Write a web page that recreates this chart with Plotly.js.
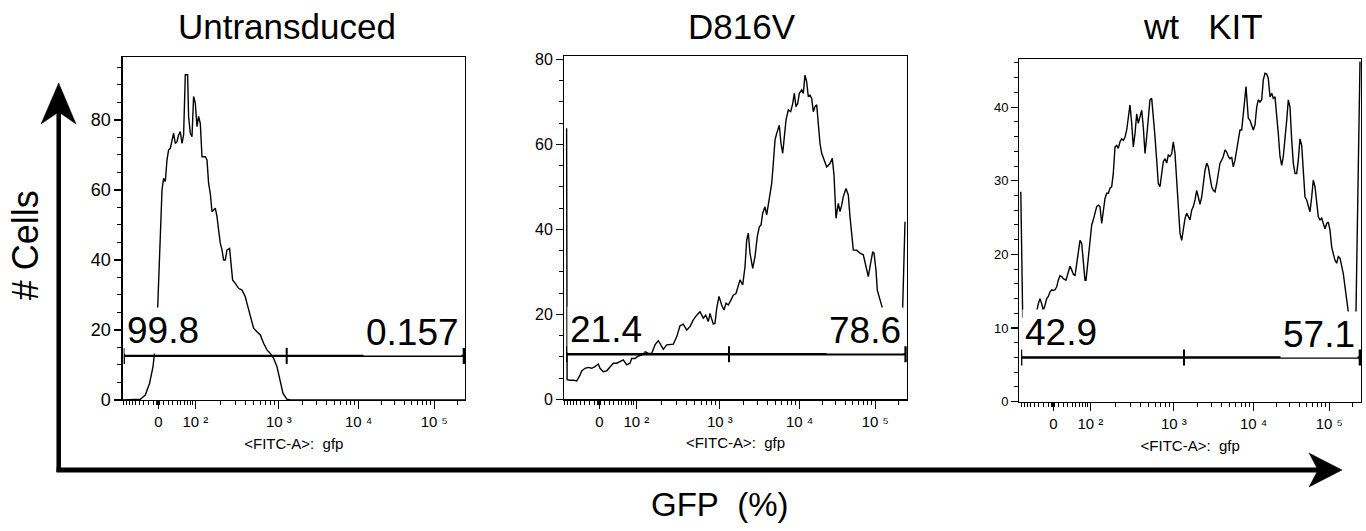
<!DOCTYPE html>
<html><head><meta charset="utf-8">
<script src="https://cdn.plot.ly/plotly-3.0.1.min.js"></script>
<style>html,body{margin:0;padding:0;background:#fff}#chart{width:1366px;height:531px}</style>
</head><body><div id="chart"></div>
<script>
// ---- data (x = display position on the biexponential GFP axis, 0 tick = 0) ----
const panelTitles = ["Untransduced", "D816V", "wt\u00a0\u00a0\u00a0KIT"];
const tickLabels = ["0", "10\u00a0\u00b2", "10\u00a0\u00b3", "10\u00a0\u2074", "10\u00a0\u2075"];
const tickPositions = [0, 37, 120.5, 200.3, 276];

const untransducedX = [-35.6, -18, -13, -8.7, -5.3, -3.7, -2, -0.7, 1.3, 3.7,
  5.3, 7, 8.7, 10.3, 12, 13.7, 15.3, 17, 18.7, 20.3,
  22, 23.7, 25.3, 27, 29.3, 30.3, 32, 33.7, 35.3, 37,
  38.7, 40.3, 42, 43.7, 47, 48.7, 50.3, 52, 53.7, 57,
  58.7, 60.3, 62, 63.7, 65.3, 67, 68.7, 71.3, 72.7, 74.3,
  77, 80.3, 83.7, 87, 88.7, 92, 95.3, 98.7, 102, 105.3,
  108.7, 112, 115.3, 118.7, 122, 124.7, 128.7, 132, 306.7];
const untransducedCells = [0, 0.2, 1.4, 4.8, 9.5, 12.9, 18.1, 25.7, 41, 60,
  63.3, 62.4, 68.6, 71.4, 71.9, 74.3, 76.2, 73.3, 73.8, 75.7,
  76.7, 73.3, 75.7, 92.9, 92.9, 81, 76.2, 75.2, 86.7, 84.8,
  78.1, 81, 79, 69.5, 69.5, 68.6, 61.9, 59, 53.8, 54.8,
  52.4, 48.6, 44.8, 42.9, 40, 40, 42.9, 43.3, 39, 34.3,
  33.3, 31.9, 31.4, 29.5, 27.6, 23.8, 20.5, 19.5, 18.6, 16.2,
  14.3, 13.3, 11.9, 9.5, 5.7, 1.9, 0.2, 0, 0];

const d816vX = [-32.7, -32.2, -29.3, -26, -22.6, -21, -19.3, -17.6, -14.3, -11,
  -7.6, -4.3, -1, 0.7, 4, 7.4, 10.7, 14, 17.4, 20.7,
  24, 27.4, 30.7, 32.4, 35.7, 39, 42.4, 45.7, 49, 52.4,
  55.7, 59, 60.7, 64, 67.4, 70.7, 74, 77.4, 80.7, 84,
  87.4, 90.7, 94, 97.4, 100.7, 104, 106.4, 109, 110.7, 114,
  115.7, 117.4, 119.7, 122.4, 124.7, 126.7, 129, 131.7, 134, 136.7,
  139, 140.7, 143.4, 145.7, 147.4, 149, 150.7, 153.4, 155.7, 158,
  160, 161.7, 163.4, 165.7, 167.4, 169, 170.7, 172.4, 174, 175.7,
  177.4, 180, 181.7, 183.4, 184.7, 186.7, 189, 191.4, 193.4, 195,
  196.7, 198.4, 200, 202.4, 204, 205.7, 207.4, 209, 210.7, 212.4,
  214, 215.7, 217.4, 219, 220.7, 222.4, 225.7, 227.4, 230.7, 233,
  234.7, 236.7, 239, 240.7, 242.4, 244, 246.7, 249, 250.7, 252.4,
  254, 257.4, 260.7, 264, 267.4, 269, 270.7, 273.4, 274.7, 276.7,
  278, 280.7, 282.4, 287.4, 294, 300.7, 303.4, 305.7];
const d816vCells = [63.8, 4.6, 4.5, 4.5, 4.3, 4.9, 5.7, 6.7, 7.3, 7.5,
  7.3, 7.7, 8.3, 7.3, 6.5, 6.7, 7.7, 8.5, 8.5, 8.9,
  9.3, 8.1, 8.5, 9.6, 9.6, 10.2, 10.4, 11.2, 10.8, 10.8,
  12.8, 13.8, 13.2, 11.8, 12.8, 12.9, 13, 14.7, 17.3, 17.7,
  16.3, 17.1, 18.7, 19.8, 20.6, 19.1, 19.8, 18.3, 20.2, 17.7,
  17.9, 21.4, 24.2, 22.2, 21, 22.6, 22.2, 23.4, 24.5, 24.9,
  26.5, 28.1, 26.9, 31.2, 37.5, 39.1, 34.4, 30.8, 33.6, 38.3,
  40.6, 41, 43.8, 45.3, 43.4, 46.1, 48.5, 50.8, 55.5, 61,
  62.6, 64.5, 60.2, 57.9, 61, 65.7, 68.1, 67.7, 69.6, 72,
  68.9, 69.6, 72, 72.8, 72, 76.3, 74.7, 71.2, 71.6, 70.8,
  67.7, 68.9, 69.3, 64.2, 60.2, 57.9, 55.5, 54.7, 55.5, 56.7,
  52.8, 42.6, 46.1, 44.2, 45.7, 47.7, 49.6, 48.1, 43, 39.1,
  35.1, 35.1, 34.4, 34, 30.4, 28.9, 31.2, 34.7, 34.4, 30.4,
  25.7, 23.4, 21.6, 17.9, 15.5, 14.7, 21.8, 41.8];

const wtKitX = [-32.5, -30.6, -23.3, -16.6, -15, -13.3, -11.6, -10, -8.3, -6.6,
  -5, -3.3, -1.6, 0, 1.7, 3.4, 5, 6.7, 8.4, 10,
  12.7, 15, 16.7, 18.4, 20, 21.7, 23.4, 25, 26.7, 28.4,
  30, 31.7, 32.7, 35, 36.7, 38.4, 40, 41.7, 43.4, 45,
  46.7, 48.4, 50, 51.7, 53.4, 55, 56.7, 58.4, 60, 61.7,
  63.4, 65, 66.7, 68.4, 70, 71.7, 73.4, 75, 76.7, 78.4,
  80, 81.7, 83.4, 85, 86.7, 88.4, 90, 91.7, 93.4, 95,
  96.7, 98.4, 100, 101.7, 103.4, 105, 106.7, 108.4, 110, 111.7,
  113.4, 115, 116.7, 118.4, 120, 121.7, 123.4, 125, 126.7, 128.4,
  130, 131.7, 133.4, 135, 136.7, 138.4, 140, 141.7, 143.4, 145,
  146.7, 148.4, 150, 151.7, 153.4, 155, 156.7, 158.4, 160, 161.7,
  163.4, 165, 166.7, 168.4, 170, 171.7, 173.4, 175, 176.7, 178.4,
  180, 181.7, 183.4, 185, 186.7, 188.4, 190, 191.7, 192.7, 194,
  195, 196.7, 198.4, 200, 201.7, 203.4, 205, 206.7, 208.4, 210,
  211.7, 213.4, 215, 216.7, 218.4, 220, 221.7, 223.4, 225, 226.7,
  228.4, 230, 231.7, 233.4, 235, 236.7, 238.4, 240, 241.7, 243.4,
  245, 246.7, 248.4, 250, 251.7, 253.4, 255, 256.7, 258.4, 260,
  261.7, 263.4, 265, 266.7, 268.4, 270, 271.7, 273.4, 275, 276.7,
  278.4, 280, 281.7, 283.4, 285, 286.7, 288.4, 290, 291.7, 293.4,
  295, 298.4, 301.7, 302.7, 306.7];
const wtKitCells = [28.5, 11.5, 10.6, 12.2, 13.3, 14, 13.3, 12.4, 13.1, 14,
  14.3, 14.9, 15.2, 15.1, 15.2, 15.6, 16.5, 17.1, 17, 16.7,
  16.5, 17.5, 18.4, 17.9, 17.3, 17.1, 18.8, 20.6, 21.9, 21.5,
  18.8, 16.5, 16.5, 19.7, 22.4, 24, 24.7, 25.6, 26.5, 26.7,
  26.5, 24.2, 25.6, 27.6, 28.3, 28.3, 29, 29.2, 31, 34.6,
  34.8, 34.4, 35.3, 35.7, 35.5, 35.9, 36.9, 38.7, 40.3, 37.8,
  34.6, 36.4, 39.1, 37.8, 38.9, 39.6, 37.3, 33.7, 36, 39.1,
  41, 41.2, 39.1, 36, 32.8, 29.6, 29.2, 31, 32.6, 33,
  32.4, 33.5, 33.3, 33.7, 35.3, 33.7, 30.1, 26.9, 22.9, 21.9,
  23.3, 24.9, 25.6, 25.1, 24.7, 26, 26.5, 27.4, 28.7, 27.8,
  26.8, 27.8, 29.6, 31.4, 32.4, 31.9, 30.5, 29.2, 28.7, 28.5,
  29.6, 31, 32.4, 32.8, 33.3, 34.2, 33.9, 33.3, 33, 33.2,
  31.9, 32.8, 34.2, 35.5, 36.9, 36.9, 38.7, 41.4, 42.8, 40.5,
  38.5, 38.2, 37.6, 36.9, 37.6, 40, 41, 40.7, 41, 43.7,
  44.6, 44.5, 43.9, 41.4, 41.9, 41.2, 41.4, 39.1, 36.4, 33.3,
  32.1, 33.3, 35.5, 38.2, 41, 40, 35.5, 32.4, 31, 31,
  32.8, 35.7, 34.8, 31.4, 27.8, 27.4, 26.7, 25.8, 27.8, 30.1,
  29.2, 26.5, 25.1, 24.7, 24.9, 24.2, 23.5, 24.2, 24.4, 23.3,
  21, 20.1, 19.2, 18.8, 19.7, 19.5, 18.6, 17.4, 15.6, 13.8,
  12.2, 10.2, 10.2, 12.4, 46.2];

// gates (GFP- / GFP+ split) and their percentages
const gateLevel = [12.6, 10.6, 6.0];
const gateLeft = [-34, -32.6, -31.6];
const gateDivider = [128.4, 129.7, 130.7];
const gateRight = [305.7, 306.4, 306.7];
const negativePct = ["99.8", "21.4", "42.9"];
const positivePct = ["0.157", "78.6", "57.1"];

// ---- layout helpers ----
const W = 1366, H = 531;
const FONT = 'Arial, "Liberation Sans", Helvetica, sans-serif';
const px = v => v / W, py = v => 1 - v / H;

const xDomains = [[122.7, 465], [564.3, 906.7], [1019.3, 1361]];
const yDomains = [[400, 57.3], [399.3, 56], [401.7, 59.3]];
const xRanges = [[-35.6, 306.7], [-35, 307.4], [-34, 307.7]];
const yTops = [97.9, 80.8, 46.5];
const yDticks = [20, 20, 10];
const yMinor = [5, 5, 2];
const yTickFont = [18, 16, 13];
const titleCenters = [287, 741.7, 1203.3];

function minorTicks(major, lo, hi) {
  const out = [];
  [0.15, 0.3, 1, 2, 3, 4, 5, 6, 7, 8, 9].forEach(m => {
    const d = major[1] * Math.asinh(m * 10 / 50) / Math.asinh(2);
    out.push(d, -d);
  });
  for (let k = 1; k < major.length; k++) {
    const a = major[k];
    const b = k + 1 < major.length ? major[k + 1] : a + (major[k] - major[k - 1]);
    for (let m = 2; m <= 9; m++) out.push(a + (b - a) * Math.log10(m));
  }
  return out.filter(v => v > lo && v < hi);
}

const series = [[untransducedX, untransducedCells], [d816vX, d816vCells], [wtKitX, wtKitCells]];
const traces = series.map((s, i) => ({
  type: 'scatter', mode: 'lines', x: s[0], y: s[1],
  xaxis: i ? 'x' + (i + 1) : 'x', yaxis: i ? 'y' + (i + 1) : 'y',
  line: {color: '#000', width: 1.4}, hoverinfo: 'skip', cliponaxis: true
}));

const layout = {
  width: W, height: H, margin: {l: 0, r: 0, t: 0, b: 0},
  paper_bgcolor: '#fff', plot_bgcolor: '#fff', showlegend: false,
  font: {family: FONT, color: '#000'},
  shapes: [], annotations: []
};

for (let i = 0; i < 3; i++) {
  const sx = i ? String(i + 1) : '';
  layout['xaxis' + sx] = {
    domain: [px(xDomains[i][0]), px(xDomains[i][1])], range: xRanges[i],
    anchor: 'y' + sx,
    tickmode: 'array', tickvals: tickPositions, ticktext: tickLabels,
    ticks: 'outside', ticklen: 8, tickwidth: 1.3, tickcolor: '#000',
    tickfont: {family: FONT, size: 15, color: '#000'},
    showline: true, linecolor: '#000', linewidth: 1.3, mirror: true,
    showgrid: false, zeroline: false, fixedrange: true,
    minor: {tickmode: 'array', tickvals: minorTicks(tickPositions, xRanges[i][0], xRanges[i][1]),
            ticks: 'outside', ticklen: 4, tickwidth: 1, tickcolor: '#000', showgrid: false},
    title: {text: '&lt;FITC-A&gt;:\u00a0\u00a0gfp', font: {family: FONT, size: 15, color: '#000'}, standoff: 9}
  };
  layout['yaxis' + sx] = {
    domain: [py(yDomains[i][0]), py(yDomains[i][1])], range: [0, yTops[i]],
    anchor: 'x' + sx,
    tickmode: 'linear', tick0: 0, dtick: yDticks[i],
    ticks: 'outside', ticklen: 7, tickwidth: 1.3, tickcolor: '#000',
    tickfont: {family: FONT, size: yTickFont[i], color: '#000'},
    showline: true, linecolor: '#000', linewidth: 1.3, mirror: true,
    showgrid: false, zeroline: false, fixedrange: true,
    minor: {tick0: 0, dtick: yMinor[i], ticks: 'outside', ticklen: 4, tickwidth: 1, tickcolor: '#000', showgrid: false}
  };
  const xr = 'x' + sx, yr = 'y' + sx;
  // gate line + end/divider ticks
  layout.shapes.push({type: 'line', xref: xr, yref: yr, x0: gateLeft[i], x1: gateRight[i],
    y0: gateLevel[i], y1: gateLevel[i], line: {color: '#000', width: 2.4}});
  [[gateLeft[i], 1.3], [gateDivider[i], 2], [gateRight[i], 2.6]].forEach(([gx, w]) => {
    layout.shapes.push({type: 'line', xref: xr, yref: yr, ysizemode: 'pixel', yanchor: gateLevel[i],
      x0: gx, x1: gx, y0: -8, y1: 8, line: {color: '#000', width: w}});
  });
  // gate percentages
  layout.annotations.push({xref: xr, yref: yr, x: gateLeft[i], y: gateLevel[i], xanchor: 'left', yanchor: 'bottom',
    yshift: 1.5, text: negativePct[i], showarrow: false, bgcolor: '#fff', borderpad: 2,
    font: {family: FONT, size: 37, color: '#000'}});
  layout.annotations.push({xref: xr, yref: yr, x: gateRight[i], y: gateLevel[i], xanchor: 'right', yanchor: 'bottom',
    xshift: -2, text: positivePct[i], showarrow: false, bgcolor: '#fff', borderpad: 2,
    font: {family: FONT, size: 37, color: '#000'}});
  // panel title
  layout.annotations.push({xref: 'paper', yref: 'paper', x: px(titleCenters[i]), y: py(47.7),
    xanchor: 'center', yanchor: 'bottom', text: panelTitles[i], showarrow: false,
    font: {family: FONT, size: 35, color: '#000'}});
}

// shared axis titles
layout.annotations.push({xref: 'paper', yref: 'paper', x: px(25.8), y: py(245.5), xanchor: 'center', yanchor: 'middle',
  textangle: -90, text: '#\u00a0Cells', showarrow: false, font: {family: FONT, size: 36, color: '#000'}});
layout.annotations.push({xref: 'paper', yref: 'paper', x: px(720), y: py(525), xanchor: 'center', yanchor: 'bottom',
  text: 'GFP\u00a0\u00a0(%)', showarrow: false, font: {family: FONT, size: 33, color: '#000'}});

// shared arrows
layout.shapes.push({type: 'line', xref: 'paper', yref: 'paper', x0: px(58.7), x1: px(58.7), y0: py(472), y1: py(112),
  line: {color: '#000', width: 4.5}});
layout.shapes.push({type: 'line', xref: 'paper', yref: 'paper', x0: px(56.5), x1: px(1320), y0: py(470), y1: py(470),
  line: {color: '#000', width: 5}});
const P = (a, b) => px(a) + ',' + py(b);
layout.shapes.push({type: 'path', xref: 'paper', yref: 'paper', fillcolor: '#000', line: {color: '#000', width: 0.5},
  path: 'M' + P(58.7, 83) + ' L' + P(76, 124) + ' L' + P(58.7, 112) + ' L' + P(41, 124) + ' Z'});
layout.shapes.push({type: 'path', xref: 'paper', yref: 'paper', fillcolor: '#000', line: {color: '#000', width: 0.5},
  path: 'M' + P(1342, 470) + ' L' + P(1309, 453) + ' L' + P(1318, 470) + ' L' + P(1309, 487) + ' Z'});

Plotly.newPlot('chart', traces, layout, {staticPlot: true, displayModeBar: false});
</script></body></html>
